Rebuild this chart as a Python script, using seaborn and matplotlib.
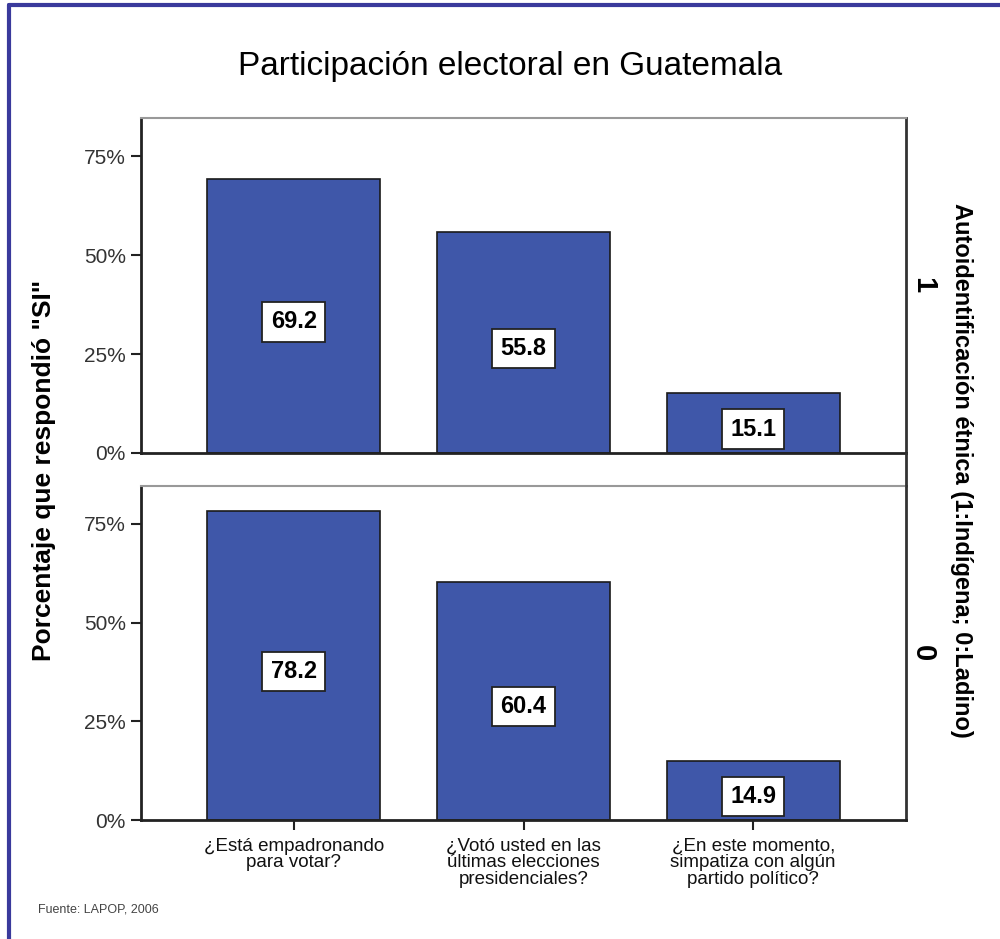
import pandas as pd
import matplotlib.pyplot as plt
import matplotlib.lines as mlines
import seaborn as sns

# survey results (% answering "SI")
preguntas = ['¿Está empadronando\npara votar?',
             '¿Votó usted en las\núltimas elecciones\npresidenciales?',
             '¿En este momento,\nsimpatiza con algún\npartido político?']
indigena = [69.2, 55.8, 15.1]
ladino = [78.2, 60.4, 14.9]
grupos = ['1', '0']
yticks = [0, 25, 50, 75]
ytick_labels = ['0%', '25%', '50%', '75%']

df = pd.DataFrame({
    'pregunta': preguntas * 2,
    'valor': indigena + ladino,
    'grupo': ['1'] * 3 + ['0'] * 3,
})

sns.set_style('white')
plt.rcParams['font.family'] = ['Liberation Sans', 'DejaVu Sans']
plt.rcParams['text.color'] = 'black'

bar_color = '#3f57a9'
fig = plt.figure(figsize=(10, 9.39), dpi=100)
ax_top = fig.add_axes([0.141, 1 - 453 / 939, 0.765, 335 / 939])
ax_bot = fig.add_axes([0.141, 1 - 820 / 939, 0.765, 334 / 939])

for ax, g in zip([ax_top, ax_bot], grupos):
    sub = df[df['grupo'] == g]
    sns.barplot(data=sub, x='pregunta', y='valor', ax=ax, color=bar_color,
                saturation=1, width=0.754, edgecolor='#1a1a1a', linewidth=1.2)
    ax.set_xlim(-0.665, 2.665)
    ax.set_ylim(0, 84.6)
    ax.set_yticks(yticks)
    ax.set_yticklabels(ytick_labels, fontsize=15, color='#333333')
    ax.tick_params(axis='y', which='major', left=True, length=7, width=1.5,
                   color='#222222', pad=4)
    ax.set_xlabel('')
    ax.set_ylabel('')
    for i, v in enumerate(sub['valor']):
        ax.text(i, max(v / 2 - 1.5, 6), f'{v:.1f}', ha='center', va='center',
                fontsize=17, fontweight='bold', color='black',
                bbox=dict(boxstyle='square,pad=0.35', facecolor='white',
                          edgecolor='#222222', linewidth=1.3))
    ax.spines['left'].set_linewidth(2)
    ax.spines['left'].set_color('#222222')
    ax.spines['bottom'].set_linewidth(2)
    ax.spines['bottom'].set_color('#222222')
    ax.spines['top'].set_linewidth(1.5)
    ax.spines['top'].set_color('#999999')
    ax.spines['right'].set_linewidth(2)
    ax.spines['right'].set_color('#333333')
    # panel label on the right
    ax.text(1.022, 0.5, g, transform=ax.transAxes, rotation=-90,
            ha='center', va='center', fontsize=21, fontweight='bold',
            color='black')

ax_top.set_xticks([])
ax_bot.set_xticks(range(3))
ax_bot.set_xticklabels(preguntas, fontsize=13.5, color='#111111', linespacing=0.95)
ax_bot.tick_params(axis='x', bottom=True, length=7, width=1.5, color='#222222', pad=6)

# right line between panels
fig.add_artist(mlines.Line2D([0.906, 0.906], [1 - 486 / 939, 1 - 453 / 939],
                             color='#333333', linewidth=2))

fig.text(0.51, 1 - 67 / 939, 'Participación electoral en Guatemala',
         ha='center', va='center', fontsize=24, color='black')
fig.text(0.044, 1 - 470 / 939, 'Porcentaje que respondió "SI"', rotation=90,
         ha='center', va='center', fontsize=19, fontweight='bold', color='black')
fig.text(0.962, 1 - 470 / 939, 'Autoidentificación étnica (1:Indígena; 0:Ladino)',
         rotation=-90, ha='center', va='center', fontsize=17, fontweight='bold',
         color='black')
fig.text(0.038, 1 - 910 / 939, 'Fuente: LAPOP, 2006', ha='left', va='center',
         fontsize=9, color='#444444')

# frame on top and left like the original export
border = '#3a3a9c'
fig.add_artist(mlines.Line2D([0.009, 1.0], [1 - 5 / 939, 1 - 5 / 939],
                             color=border, linewidth=3))
fig.add_artist(mlines.Line2D([0.009, 0.009], [0, 1 - 5 / 939],
                             color=border, linewidth=3))

fig.savefig('out.png', dpi=100, facecolor='white')
